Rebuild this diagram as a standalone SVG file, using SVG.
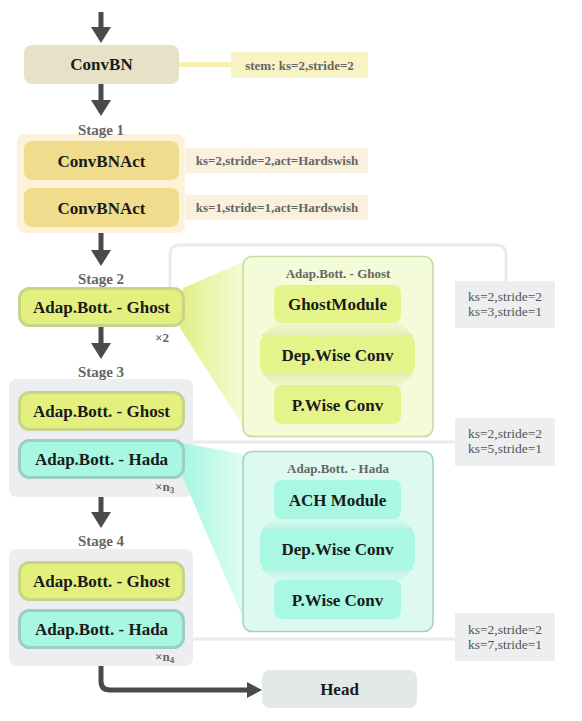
<svg xmlns="http://www.w3.org/2000/svg" width="582" height="721" viewBox="0 0 582 721">
<defs>
<style>
.t{font-family:"Liberation Serif","Times New Roman",serif;font-weight:bold;fill:#1a1a1a;text-anchor:middle;font-size:17px}
.g{font-family:"Liberation Serif","Times New Roman",serif;font-weight:bold;fill:#666;text-anchor:middle;font-size:15px}
.s{font-family:"Liberation Serif","Times New Roman",serif;font-weight:bold;fill:#666;text-anchor:middle;font-size:13px}
.r{font-family:"Liberation Serif","Times New Roman",serif;fill:#555;text-anchor:middle;font-size:13.5px}
.m{font-family:"Liberation Serif","Times New Roman",serif;font-weight:bold;fill:#666;font-size:13px}
.ar{fill:none;stroke:#4a4a4a;stroke-width:5}
.gl{fill:none;stroke:#e8ecec;stroke-width:3}
.ghost{fill:#e4f07e;stroke:#c6d48c;stroke-width:3}
.hada{fill:#a8f7e1;stroke:#9ccfc3;stroke-width:3}
.gm{fill:#e4f48a}
.hm{fill:#a8f8e3}
.cont{fill:#eceeef}
.lab{fill:#eceeef}
</style>
<marker id="ah" viewBox="0 0 16 20" refX="1" refY="10" markerWidth="16" markerHeight="20" markerUnits="userSpaceOnUse" orient="auto">
<path d="M0,0 L16,10 L0,20 z" fill="#4a4a4a"/>
</marker>
<marker id="ah2" viewBox="0 0 15 16" refX="1" refY="8" markerWidth="15" markerHeight="16" markerUnits="userSpaceOnUse" orient="auto">
<path d="M0,0 L15,8 L0,16 z" fill="#4a4a4a"/>
</marker>
<linearGradient id="gf" x1="0" y1="0" x2="1" y2="0">
<stop offset="0" stop-color="#e2ef86"/>
<stop offset="1" stop-color="#f4fbd6"/>
</linearGradient>
<linearGradient id="hf" x1="0" y1="0" x2="1" y2="0">
<stop offset="0" stop-color="#a8f7e1"/>
<stop offset="1" stop-color="#e0fcf3"/>
</linearGradient>
<linearGradient id="gb" x1="0" y1="0" x2="0" y2="1">
<stop offset="0" stop-color="#f2f8d6"/>
<stop offset="1" stop-color="#e2edb0"/>
</linearGradient>
<linearGradient id="gb2" x1="0" y1="0" x2="0" y2="1">
<stop offset="0" stop-color="#e2edb0"/>
<stop offset="1" stop-color="#f2f8d6"/>
</linearGradient>
<linearGradient id="hb" x1="0" y1="0" x2="0" y2="1">
<stop offset="0" stop-color="#d8fbef"/>
<stop offset="1" stop-color="#b8f3df"/>
</linearGradient>
<linearGradient id="hb2" x1="0" y1="0" x2="0" y2="1">
<stop offset="0" stop-color="#b8f3df"/>
<stop offset="1" stop-color="#d8fbef"/>
</linearGradient>
</defs>

<g id="containers">
<rect x="17" y="134" width="168" height="99" rx="8" fill="#fcf2da"/>
<rect x="9" y="379" width="184" height="118" rx="8" class="cont"/>
<rect x="9" y="549" width="184" height="117" rx="8" class="cont"/>
</g>

<g id="connectors">
<line x1="101" y1="12" x2="101" y2="28" class="ar" marker-end="url(#ah)"/>
<line x1="101" y1="84" x2="101" y2="101" class="ar" marker-end="url(#ah)"/>
<line x1="101" y1="233" x2="101" y2="251" class="ar" marker-end="url(#ah)"/>
<line x1="101" y1="327" x2="101" y2="344" class="ar" marker-end="url(#ah)"/>
<line x1="101" y1="497" x2="101" y2="513" class="ar" marker-end="url(#ah)"/>
<path d="M101,666 V681 Q101,690 110,690 H248" class="ar" marker-end="url(#ah2)"/>
<line x1="179" y1="64.5" x2="231" y2="64.5" stroke="#f8f0b0" stroke-width="5"/>
<path d="M170,287 V255 Q170,245 180,245 H496 Q506,245 506,255 V281" class="gl"/>
<line x1="193" y1="442" x2="455" y2="442" class="gl"/>
<line x1="193" y1="639" x2="455" y2="639" class="gl"/>
<polygon points="183,288 243,262 243,426 180,328" fill="url(#gf)"/>
<polygon points="183,443 243,454 243,618 183,478" fill="url(#hf)"/>
</g>

<g id="convbn">
<rect x="24" y="45" width="155" height="39" rx="8" fill="#e7e1c7"/>
<text x="101.5" y="70" class="t">ConvBN</text>
</g>
<g id="stem-label">
<rect x="231" y="52" width="137" height="26" fill="#f8f3c2"/>
<text x="299.5" y="69.5" class="s">stem: ks=2,stride=2</text>
</g>

<g id="stage1">
<text x="101" y="135" class="g">Stage 1</text>
</g>
<g id="convbnact1">
<rect x="24" y="141" width="155" height="39" rx="8" fill="#f0dc8c"/>
<text x="101.5" y="166.5" class="t">ConvBNAct</text>
</g>
<g id="convbnact1-label">
<rect x="186" y="148" width="182" height="25" fill="#f9f1de"/>
<text x="277" y="165" class="s">ks=2,stride=2,act=Hardswish</text>
</g>
<g id="convbnact2">
<rect x="24" y="188" width="155" height="39" rx="8" fill="#f0dc8c"/>
<text x="101.5" y="213.5" class="t">ConvBNAct</text>
</g>
<g id="convbnact2-label">
<rect x="186" y="195" width="182" height="25" fill="#f9f1de"/>
<text x="277" y="212" class="s">ks=1,stride=1,act=Hardswish</text>
</g>

<g id="stage2">
<text x="101" y="284" class="g">Stage 2</text>
<rect x="19.5" y="288.5" width="164" height="37" rx="10" class="ghost"/>
<text x="101.5" y="313" class="t">Adap.Bott. - Ghost</text>
<text x="162" y="342" class="m" text-anchor="middle">×2</text>
</g>
<g id="stage2-label">
<rect x="455" y="281" width="100" height="47" class="lab"/>
<text x="505" y="300.5" class="r">ks=2,stride=2</text>
<text x="505" y="316" class="r">ks=3,stride=1</text>
</g>

<g id="stage3">
<text x="101" y="377" class="g">Stage 3</text>
<rect x="19.5" y="392.5" width="164" height="37" rx="10" class="ghost"/>
<text x="101.5" y="417" class="t">Adap.Bott. - Ghost</text>
<rect x="19.5" y="440.5" width="164" height="37" rx="10" class="hada"/>
<text x="101.5" y="465" class="t">Adap.Bott. - Hada</text>
<text x="155" y="491" class="m">×n<tspan font-size="9" dy="2">3</tspan></text>
</g>
<g id="stage3-label">
<rect x="455" y="418" width="100" height="48" class="lab"/>
<text x="505" y="437.5" class="r">ks=2,stride=2</text>
<text x="505" y="452.5" class="r">ks=5,stride=1</text>
</g>

<g id="stage4">
<text x="101" y="546" class="g">Stage 4</text>
<rect x="19.5" y="562.5" width="164" height="37" rx="10" class="ghost"/>
<text x="101.5" y="587" class="t">Adap.Bott. - Ghost</text>
<rect x="19.5" y="610.5" width="164" height="37" rx="10" class="hada"/>
<text x="101.5" y="634.5" class="t">Adap.Bott. - Hada</text>
<text x="155" y="661" class="m">×n<tspan font-size="9" dy="2">4</tspan></text>
</g>
<g id="stage4-label">
<rect x="455" y="613" width="100" height="48" class="lab"/>
<text x="505" y="633.5" class="r">ks=2,stride=2</text>
<text x="505" y="648.5" class="r">ks=7,stride=1</text>
</g>

<g id="ghost-detail">
<rect x="243" y="256.5" width="190" height="180" rx="9" fill="#f4fbd8" stroke="#c6d9a2" stroke-width="1.5"/>
<text x="338" y="277.5" class="s">Adap.Bott. - Ghost</text>
<polygon points="276,322 399,322 414,336 261,336" fill="url(#gb)"/>
<polygon points="261,373 414,373 399,387 276,387" fill="url(#gb2)"/>
<rect x="274" y="285" width="127" height="38" rx="8" class="gm"/>
<text x="337.5" y="310" class="t">GhostModule</text>
<rect x="260" y="335" width="155" height="39" rx="8" class="gm"/>
<text x="337.5" y="360.5" class="t">Dep.Wise Conv</text>
<rect x="274" y="385" width="127" height="39" rx="8" class="gm"/>
<text x="337.5" y="410.5" class="t">P.Wise Conv</text>
</g>

<g id="hada-detail">
<rect x="243" y="451.5" width="190" height="180" rx="9" fill="#dcfaf0" stroke="#a0d2c8" stroke-width="1.5"/>
<text x="338" y="472.5" class="s">Adap.Bott. - Hada</text>
<polygon points="276,518 399,518 414,530 261,530" fill="url(#hb)"/>
<polygon points="261,568 414,568 399,581 276,581" fill="url(#hb2)"/>
<rect x="274" y="480" width="127" height="39" rx="8" class="hm"/>
<text x="337.5" y="505.5" class="t">ACH Module</text>
<rect x="260" y="529" width="155" height="40" rx="8" class="hm"/>
<text x="337.5" y="555" class="t">Dep.Wise Conv</text>
<rect x="274" y="580" width="127" height="39" rx="8" class="hm"/>
<text x="337.5" y="605.5" class="t">P.Wise Conv</text>
</g>

<g id="head">
<rect x="262" y="670" width="155" height="38" rx="8" fill="#e3e9e8"/>
<text x="339.5" y="695" class="t">Head</text>
</g>
</svg>
